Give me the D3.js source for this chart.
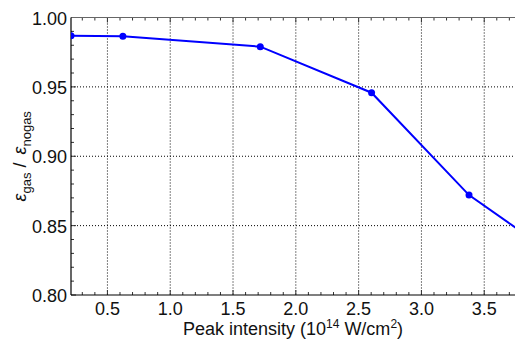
<!DOCTYPE html>
<html>
<head>
<meta charset="utf-8">
<script src="https://cdn.jsdelivr.net/npm/d3@7"></script>
<style>
  body { margin: 0; background: #fff; }
  text { font-family: "Liberation Sans", Arial, sans-serif; }
</style>
</head>
<body>
<div id="chart"></div>
<script>
// data
const intensity = [0.21, 0.623, 1.717, 2.603, 3.379, 3.9];
const ratio = [0.9869, 0.9865, 0.979, 0.9458, 0.872, 0.839];
const showMarker = [true, true, true, true, true, false];
const xTicks = [0.5, 1.0, 1.5, 2.0, 2.5, 3.0, 3.5];
const yTicks = [0.80, 0.85, 0.90, 0.95, 1.00];

const W = 515, H = 345;
const margin = { top: 17.5, right: 0, bottom: 50, left: 71 };
const width = W - margin.left - margin.right;
const height = H - margin.top - margin.bottom;

const svg = d3.select("#chart").append("svg")
  .attr("width", W).attr("height", H);

const g = svg.append("g")
  .attr("transform", `translate(${margin.left},${margin.top})`);

const x = d3.scaleLinear().domain([0.21, 3.745]).range([0, width]);
const y = d3.scaleLinear().domain([0.80, 1.00]).range([height, 0]);

// grid
g.append("g").selectAll("line").data(xTicks).join("line")
  .attr("x1", d => x(d)).attr("x2", d => x(d))
  .attr("y1", 0).attr("y2", height)
  .attr("stroke", "#000").attr("stroke-width", 1)
  .attr("stroke-dasharray", "1,2");
g.append("g").selectAll("line").data(yTicks.filter(d => d > 0.8 && d < 1)).join("line")
  .attr("x1", 0).attr("x2", width)
  .attr("y1", d => y(d)).attr("y2", d => y(d))
  .attr("stroke", "#000").attr("stroke-width", 1)
  .attr("stroke-dasharray", "1,2");

// minor ticks
const xMinor = d3.range(3, 38).map(d => d / 10).filter(d => d >= 0.21 && d <= 3.745);
const yMinor = d3.range(80, 101).map(d => d / 100);

const tickG = g.append("g").attr("stroke", "#333").attr("stroke-width", 1);
xMinor.forEach(v => {
  const major = Math.abs(v * 2 - Math.round(v * 2)) < 1e-6;
  const len = major ? 5 : 3;
  tickG.append("line").attr("x1", x(v)).attr("x2", x(v))
    .attr("y1", height).attr("y2", height - len);
  tickG.append("line").attr("x1", x(v)).attr("x2", x(v))
    .attr("y1", 0).attr("y2", len);
});
yMinor.forEach(v => {
  const major = Math.abs(v * 20 - Math.round(v * 20)) < 1e-6;
  const len = major ? 5 : 3;
  tickG.append("line").attr("x1", 0).attr("x2", len)
    .attr("y1", y(v)).attr("y2", y(v));
});

// frame
g.append("line").attr("x1", 0).attr("x2", width).attr("y1", 0).attr("y2", 0)
  .attr("stroke", "#666").attr("stroke-width", 1);
g.append("line").attr("x1", 0).attr("x2", 0).attr("y1", 0).attr("y2", height)
  .attr("stroke", "#000").attr("stroke-width", 1.2);
g.append("line").attr("x1", 0).attr("x2", width).attr("y1", height).attr("y2", height)
  .attr("stroke", "#000").attr("stroke-width", 1.2);

// tick labels
g.append("g").selectAll("text").data(xTicks).join("text")
  .attr("x", d => x(d)).attr("y", height + 20)
  .attr("text-anchor", "middle")
  .style("font-size", "18px").attr("fill", "#111")
  .text(d => d3.format(".1f")(d));
g.append("g").selectAll("text").data(yTicks).join("text")
  .attr("x", -4).attr("y", d => y(d) + 7)
  .attr("text-anchor", "end")
  .style("font-size", "18px").attr("fill", "#111")
  .text(d => d3.format(".2f")(d));

// data line
svg.append("clipPath").attr("id", "clip")
  .append("rect").attr("x", 0).attr("y", 0).attr("width", width).attr("height", height);

const pts = intensity.map((v, i) => [v, ratio[i], showMarker[i]]);
const plot = g.append("g").attr("clip-path", "url(#clip)");
plot.append("path").datum(pts)
  .attr("fill", "none").attr("stroke", "#0000ff").attr("stroke-width", 2)
  .attr("d", d3.line().x(d => x(d[0])).y(d => y(d[1])));
plot.selectAll("circle").data(pts.filter(d => d[2])).join("circle")
  .attr("cx", d => x(d[0])).attr("cy", d => y(d[1])).attr("r", 3.5)
  .attr("fill", "#0000ff");

// axis titles
const xt = svg.append("text")
  .attr("x", margin.left + width / 2).attr("y", 335)
  .attr("text-anchor", "middle").style("font-size", "18px").attr("fill", "#111");
xt.append("tspan").text("Peak intensity (10");
xt.append("tspan").attr("dy", -7).style("font-size", "12px").text("14");
xt.append("tspan").attr("dy", 7).text("\u00a0W/cm");
xt.append("tspan").attr("dy", -7).style("font-size", "12px").text("2");
xt.append("tspan").attr("dy", 7).text(")");

const yt = svg.append("text")
  .attr("transform", `translate(26,${margin.top + height / 2}) rotate(-90)`)
  .attr("text-anchor", "middle").style("font-size", "18px").attr("fill", "#111");
yt.append("tspan").style("font-style", "italic").text("ε");
yt.append("tspan").attr("dy", 5).style("font-size", "13px").text("gas");
yt.append("tspan").attr("dy", -5).text("\u00a0/\u00a0");
yt.append("tspan").attr("dx", 3).style("font-style", "italic").text("ε");
yt.append("tspan").attr("dy", 5).style("font-size", "13px").text("nogas");
</script>
</body>
</html>
